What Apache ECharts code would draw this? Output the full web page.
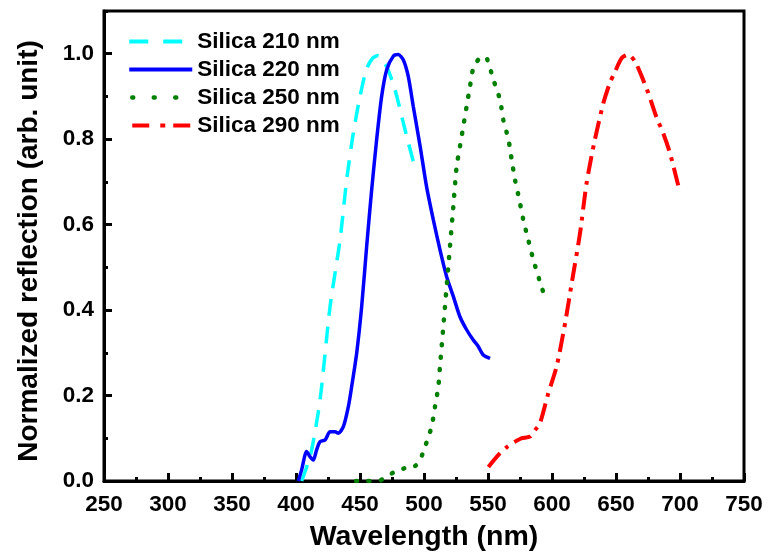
<!DOCTYPE html>
<html>
<head>
<meta charset="utf-8">
<script src="https://cdn.jsdelivr.net/npm/echarts@6/dist/echarts.min.js"></script>
<style>html,body{margin:0;padding:0;background:#fff}#c{width:768px;height:554px}</style>
</head>
<body>
<div id="c"></div>
<script>
// ---- data ----
var seriesNames = ['Silica 210 nm', 'Silica 220 nm', 'Silica 250 nm', 'Silica 290 nm'];
var xTickLabels = [250, 300, 350, 400, 450, 500, 550, 600, 650, 700, 750];
var yTickLabels = ['0.0', '0.2', '0.4', '0.6', '0.8', '1.0'];

var x210 = [404.4, 408, 412.2, 418.8, 426.6, 434.4, 439.6, 444.8, 450, 455.2, 460, 464.3, 470.8, 477.3, 485.2, 491.6];
var y210 = [0.0, 0.03, 0.072, 0.19, 0.408, 0.564, 0.705, 0.815, 0.90, 0.965, 0.99, 0.996, 0.97, 0.916, 0.822, 0.748];

var x220 = [401.8, 404.4, 408.3, 410.9, 413.5, 416.1, 418.8, 422.7, 426.6, 430.5, 433.1, 437, 440.9, 443.5, 447.4, 451.3, 455.2, 459.1, 463, 466.9, 470.8, 476, 479.9, 483.8, 487.7, 491.6, 497, 502, 507.3, 512.5, 517.7, 522.9, 528, 533.3, 538.5, 542.4, 546.3, 551.6];
var y220 = [0.0, 0.026, 0.069, 0.057, 0.049, 0.073, 0.092, 0.096, 0.115, 0.115, 0.112, 0.127, 0.174, 0.221, 0.299, 0.408, 0.549, 0.681, 0.799, 0.90, 0.962, 0.994, 0.998, 0.986, 0.947, 0.877, 0.783, 0.689, 0.611, 0.541, 0.478, 0.432, 0.385, 0.354, 0.330, 0.315, 0.295, 0.287];

var x250 = [447, 455, 464, 470, 477.3, 485, 493, 497, 500.8, 505.9, 508.6, 511.2, 512.5, 515.1, 517.7, 520.3, 522.9, 525.5, 528.1, 530.7, 533.3, 535.9, 538.5, 543, 547.7, 554.2, 559.4, 562, 566, 568.5, 571.1, 574.5, 577.6, 581.5, 585.4, 590.1, 595.1];
var y250 = [0.0, 0.0, 0.0, 0.008, 0.022, 0.03, 0.035, 0.05, 0.08, 0.127, 0.174, 0.221, 0.268, 0.361, 0.455, 0.549, 0.642, 0.736, 0.783, 0.830, 0.877, 0.923, 0.966, 0.988, 0.993, 0.939, 0.892, 0.845, 0.799, 0.752, 0.705, 0.658, 0.611, 0.564, 0.518, 0.471, 0.424];

var x290 = [550.3, 559.4, 565, 571.1, 576, 582.8, 587, 590.6, 597.1, 603.6, 610.2, 615.4, 621.9, 627, 633.5, 640.2, 645, 649.4, 654.5, 659.6, 664.8, 670.1, 675.2, 681.8, 686.9, 692.2, 699.5];
var y290 = [0.033, 0.065, 0.08, 0.092, 0.1, 0.104, 0.12, 0.135, 0.205, 0.268, 0.369, 0.463, 0.58, 0.697, 0.799, 0.885, 0.93, 0.959, 0.99, 0.998, 0.982, 0.947, 0.908, 0.85, 0.814, 0.767, 0.681];

var colors = ['#00ffff', '#0000ff', '#007f00', '#ff0000'];

function pairs(xs, ys) { return xs.map(function (x, i) { return [x, ys[i]]; }); }

var FONT = '"Liberation Sans", Arial, Helvetica, sans-serif';
var chart = echarts.init(document.getElementById('c'), null, { renderer: 'canvas' });

function lineSeries(name, xs, ys, color, width, type, cap) {
  return {
    name: name, type: 'line', data: pairs(xs, ys), showSymbol: false, symbol: 'none',
    smooth: 0.25, animation: false, xAxisIndex: 0, yAxisIndex: 0,
    lineStyle: { color: color, width: width, type: type, cap: cap || 'butt' },
    itemStyle: { color: color }
  };
}

var legendStyles = [
  { color: colors[0], width: 4, type: [19, 15], cap: 'butt' },
  { color: colors[1], width: 4, type: 'solid', cap: 'butt' },
  { color: colors[2], width: 4.5, type: [1, 20.5], cap: 'round', dashOffset: -3 },
  { color: colors[3], width: 4, type: [17, 11, 5, 8], cap: 'butt' }
];

var option = {
  backgroundColor: '#fff',
  animation: false,
  grid: { left: 104, right: 24, top: 11, bottom: 73, show: true, borderColor: '#000', borderWidth: 3, backgroundColor: 'transparent', outerBoundsMode: 'none', containLabel: false },
  legend: {
    orient: 'vertical', left: 122, top: 25, itemWidth: 63, itemHeight: 22, itemGap: 5,
    data: seriesNames.map(function (n, i) { return { name: n, lineStyle: legendStyles[i] }; }),
    itemStyle: { opacity: 0 },
    textStyle: { fontFamily: FONT, fontWeight: 'bold', fontSize: 22.5, color: '#000', padding: [0, 0, 0, 0] },
    selectedMode: false
  },
  xAxis: {
    type: 'value', min: 250, max: 750, interval: 50,
    name: 'Wavelength (nm)', nameLocation: 'middle', nameGap: 42,
    nameTextStyle: { fontFamily: FONT, fontWeight: 'bold', fontSize: 28.5, color: '#000' },
    axisLine: { show: true, onZero: false, lineStyle: { color: '#000', width: 3 } },
    axisTick: { show: true, inside: true, length: 8, lineStyle: { color: '#000', width: 3 } },
    minorTick: { show: true, splitNumber: 2, length: 4, lineStyle: { color: '#000', width: 3 } },
    axisLabel: { fontFamily: FONT, fontWeight: 'bold', fontSize: 22.5, color: '#000', margin: 12,
      formatter: function (v) { return xTickLabels.indexOf(v) >= 0 ? String(v) : ''; } },
    splitLine: { show: false }
  },
  yAxis: [{
    type: 'value', min: 0, max: 1.1, interval: 0.2,
    name: 'Normalized reflection (arb. unit)', nameLocation: 'middle', nameGap: 61,
    nameTextStyle: { fontFamily: FONT, fontWeight: 'bold', fontSize: 28, color: '#000', padding: [0, 10, 0, 0] },
    axisLine: { show: true, onZero: false, lineStyle: { color: '#000', width: 3 } },
    axisTick: { show: true, inside: true, length: 8, lineStyle: { color: '#000', width: 3 } },
    axisLabel: { fontFamily: FONT, fontWeight: 'bold', fontSize: 22.5, color: '#000', margin: 10, showMaxLabel: false,
      formatter: function (v) { var s = v.toFixed(1); return yTickLabels.indexOf(s) >= 0 && v <= 1.0001 ? s : ''; } },
    splitLine: { show: false }
  }, {
    type: 'value', min: 0, max: 1.1, interval: 0.1, position: 'left',
    axisLine: { show: false },
    axisTick: { show: true, inside: true, length: 4, lineStyle: { color: '#000', width: 3 } },
    axisLabel: { show: false },
    splitLine: { show: false }
  }],
  series: [
    lineSeries(seriesNames[0], x210, y210, colors[0], 3.5, [17, 11]),
    lineSeries(seriesNames[1], x220, y220, colors[1], 3.5, 'solid'),
    lineSeries(seriesNames[2], x250, y250, colors[2], 4.5, [1, 11.5], 'round'),
    lineSeries(seriesNames[3], x290, y290, colors[3], 4, [18, 7, 4, 7])
  ]
};
chart.setOption(option);
</script>
</body>
</html>
